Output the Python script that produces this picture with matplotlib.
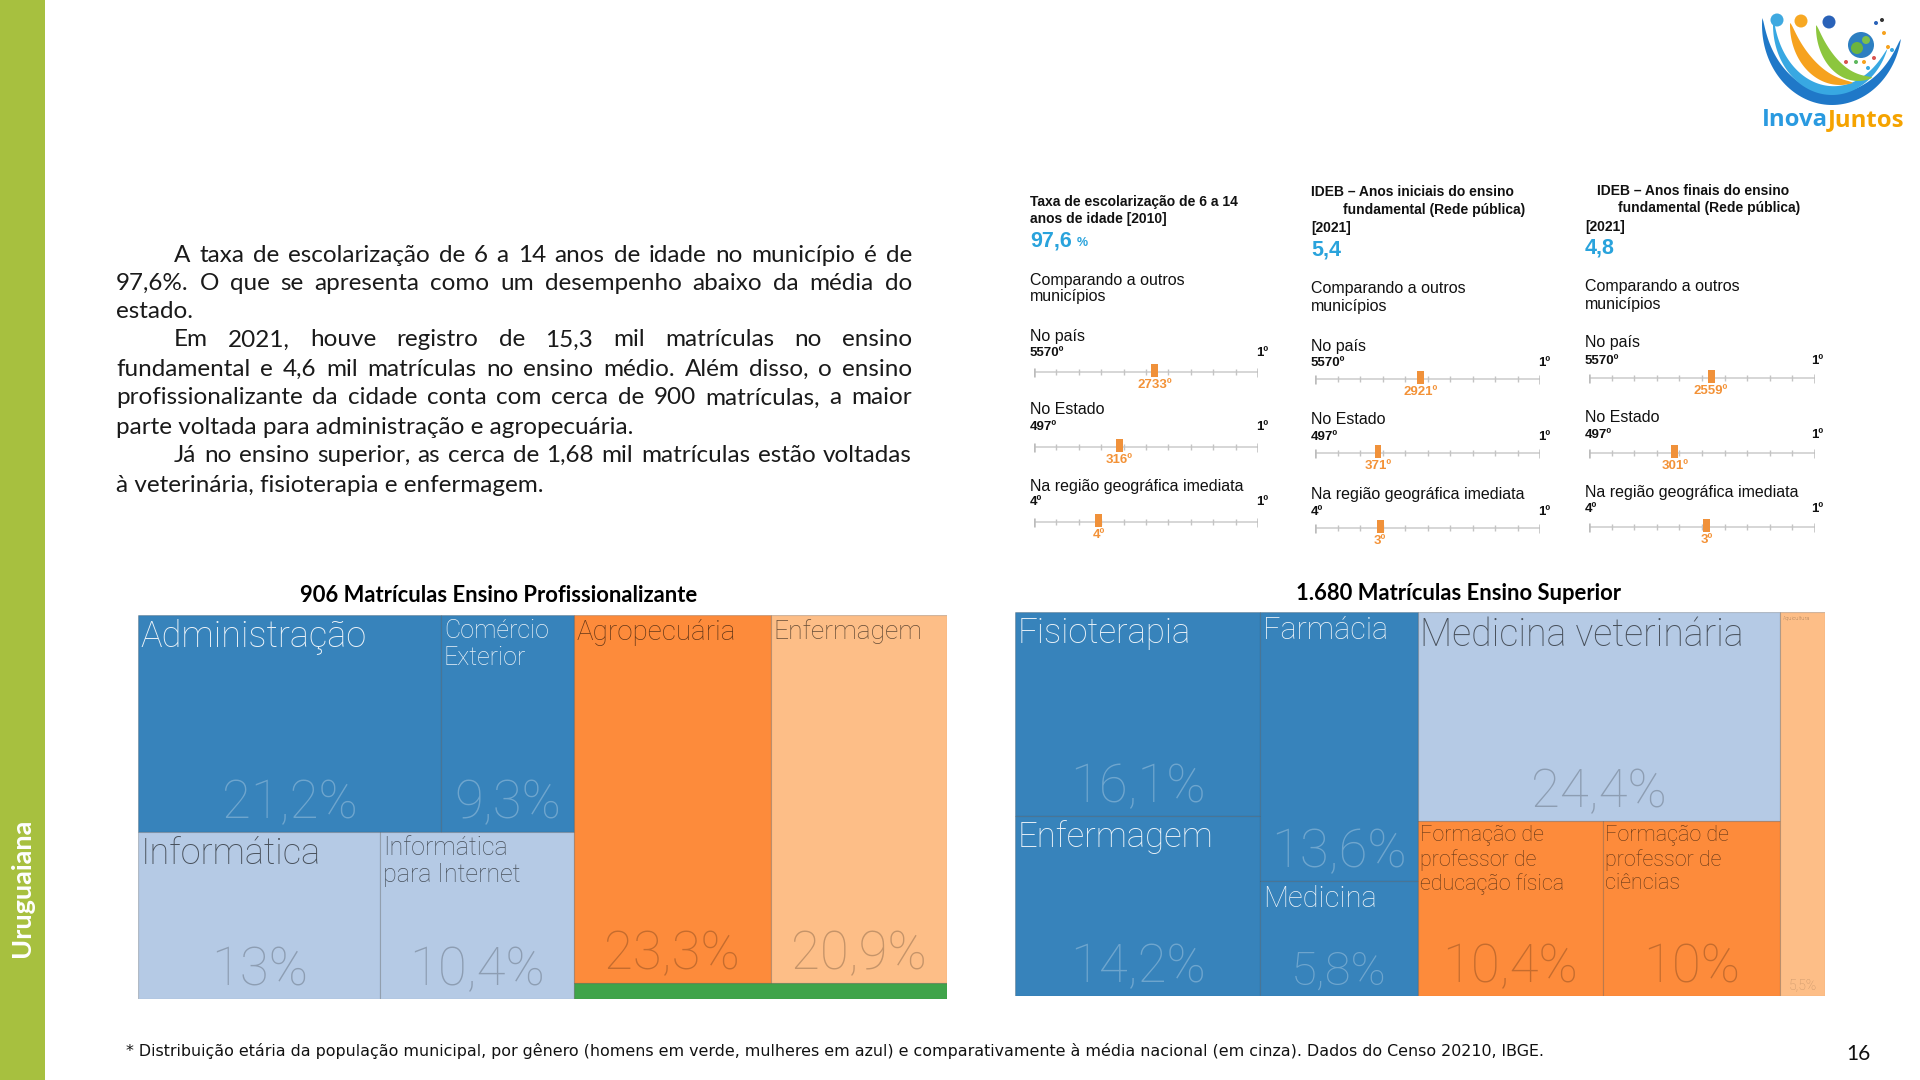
import numpy as np
import matplotlib
matplotlib.use('Agg')
import matplotlib.pyplot as plt
from matplotlib.patches import Rectangle, Polygon, Circle

# ---------------- dados ----------------
paragrafo = [
    ("A taxa de escolarização de 6 a 14 anos de idade no município é de", True, True),
    ("97,6%. O que se apresenta como um desempenho abaixo da média do", False, True),
    ("estado.", False, False),
    ("Em 2021, houve registro de 15,3 mil matrículas no ensino", True, True),
    ("fundamental e 4,6 mil matrículas no ensino médio. Além disso, o ensino", False, True),
    ("profissionalizante da cidade conta com cerca de 900 matrículas, a maior", False, True),
    ("parte voltada para administração e agropecuária.", False, False),
    ("Já no ensino superior, as cerca de 1,68 mil matrículas estão voltadas", True, True),
    ("à veterinária, fisioterapia e enfermagem.", False, False),
]

paineis_titulo = [
    ["Taxa de escolarização de 6 a 14", "anos de idade [2010]"],
    ["IDEB – Anos iniciais do ensino", "fundamental (Rede pública)", "[2021]"],
    ["IDEB – Anos finais do ensino", "fundamental (Rede pública)", "[2021]"],
]
paineis_valor = ['97,6', '5,4', '4,8']
paineis_unidade = ['%', '', '']
niveis = ['No país', 'No Estado', 'Na região geográfica imediata']
total_niveis = [5570, 497, 4]
rank_pais = [2733, 2921, 2559]
rank_estado = [316, 371, 301]
rank_regiao = [4, 3, 3]
# posição do marcador na régua (% do comprimento)
pos_pais = [54, 47, 54]
pos_estado = [38, 28, 38]
pos_regiao = [29, 29, 52]

prof_titulo = '906 Matrículas Ensino Profissionalizante'
prof_cursos = ['Administração', 'Comércio\nExterior', 'Informática', 'Informática\npara Internet',
               'Agropecuária', 'Enfermagem', '']
prof_pct = [21.2, 9.3, 13.0, 10.4, 23.3, 20.9, 1.9]
prof_grupos = [[[0, 1], [2, 3]], [[4, 5], [6]]]

sup_titulo = '1.680 Matrículas Ensino Superior'
sup_cursos = ['Fisioterapia', 'Enfermagem', 'Farmácia', 'Medicina', 'Medicina veterinária',
              'Formação de\nprofessor de\neducação física', 'Formação de\nprofessor de\nciências',
              'Aquicultura']
sup_pct = [16.1, 14.2, 13.6, 5.8, 24.4, 10.4, 10.0, 5.5]
sup_grupos = [[[0], [1]], [[2], [3]], [[4], [5, 6]], [[7]]]

rodape = ('* Distribuição etária da população municipal, por gênero (homens em verde, mulheres em azul) '
          'e comparativamente à média nacional (em cinza). Dados do Censo 20210, IBGE.')

# ---------------- estilos ----------------
AZUL = '#3783bb'
AZUL_CLARO = '#b5cae5'
LARANJA = '#fd8b3b'
LARANJA_CLARO = '#fdbe87'
VERDE = '#3fa44a'
prof_cores = [AZUL, AZUL, AZUL_CLARO, AZUL_CLARO, LARANJA, LARANJA_CLARO, VERDE]
prof_fs = [(26, 38), (18, 38), (26, 38), (18, 38), (20, 38), (19, 38), (1, 1)]
sup_cores = [AZUL, AZUL, AZUL, AZUL, AZUL_CLARO, LARANJA, LARANJA, LARANJA_CLARO]
sup_fs = [(25, 38), (25, 38), (22, 38), (21, 34), (27, 38), (15.5, 38), (15.5, 38), (4, 10)]

FONTE_TXT = 'Lato'
FONTE_IBGE = 'Liberation Sans'
FONTE_TM = 'Roboto'
AZUL_VALOR = '#29a3dc'
LARANJA_MARC = '#f0913a'

fig = plt.figure(figsize=(19.2, 10.8), dpi=100)
fig.patch.set_facecolor('white')
ax0 = fig.add_axes([0, 0, 1, 1])
ax0.set_xlim(0, 1920)
ax0.set_ylim(1080, 0)
ax0.axis('off')
renderer = fig.canvas.get_renderer()


def largura(s, **kw):
    t = ax0.text(0, 0, s, **kw)
    w = t.get_window_extent(renderer).width
    t.remove()
    return w


# barra lateral
ax0.add_patch(Rectangle((0, 0), 45, 1080, color='#a7c03f', lw=0))
ax0.text(22, 888, 'Uruguaiana', rotation=90, ha='center', va='center', color='white',
         fontsize=19.5, fontweight='bold', family=FONTE_TXT)

# paragrafo justificado
x_esq, x_ind, x_dir = 116, 174, 912
ys_par = [255, 283, 311, 340, 369, 398, 427, 455, 485]
kw_par = dict(fontsize=17.5, family=FONTE_TXT, color='#1a1a1a', va='center', ha='left')
while True:
    cabe = all(largura(l, **kw_par) <= x_dir - (x_ind if r else x_esq)
               for l, r, j in paragrafo if j)
    if cabe:
        break
    kw_par['fontsize'] -= 0.25

for (linha, recuo, justif), y in zip(paragrafo, ys_par):
    x0 = x_ind if recuo else x_esq
    if not justif:
        ax0.text(x0, y, linha, **kw_par)
        continue
    palavras = linha.split()
    ws = [largura(p, **kw_par) for p in palavras]
    gap = (x_dir - x0 - sum(ws)) / (len(palavras) - 1)
    x = x0
    for p, w in zip(palavras, ws):
        ax0.text(x, y, p, **kw_par)
        x += w + gap

# paineis IBGE
painel_x = [1030, 1311, 1585]
painel_dir = [1268, 1550, 1823]
regua_x = [(1034, 1258), (1315, 1540), (1589, 1815)]
titulo_x = [[1030, 1030], [1311, 1343, 1311], [1597, 1618, 1585]]
titulo_y = [[202, 219], [192, 210, 228], [191, 208, 227]]
valor_y = [241, 250, 248]
comp_y = [(280, 297), (289, 307), (287, 305)]
nivel_y = [[336, 410, 486], [346, 419, 494], [343, 418, 493]]
extremo_y = [[353, 427, 502], [363, 437, 512], [361, 435, 509]]
regua_y = [[372, 447, 522], [379, 453, 528], [378, 453, 527]]

for i in range(3):
    for txt, tx, ty in zip(paineis_titulo[i], titulo_x[i], titulo_y[i]):
        ax0.text(tx, ty, txt, fontsize=10, fontweight='bold', family=FONTE_IBGE,
                 color='#111111', va='center', ha='left')
    kw_val = dict(fontsize=15.5, fontweight='bold', family=FONTE_IBGE, color=AZUL_VALOR,
                  va='center', ha='left')
    ax0.text(painel_x[i], valor_y[i], paineis_valor[i], **kw_val)
    if paineis_unidade[i]:
        wv = largura(paineis_valor[i], **kw_val)
        ax0.text(painel_x[i] + wv + 5, valor_y[i] + 2, paineis_unidade[i], fontsize=9,
                 fontweight='bold', family=FONTE_IBGE, color=AZUL_VALOR, va='center', ha='left')
    ax0.text(painel_x[i], comp_y[i][0], 'Comparando a outros', fontsize=11.5, family=FONTE_IBGE,
             color='#111111', va='center')
    ax0.text(painel_x[i], comp_y[i][1], 'municípios', fontsize=11.5, family=FONTE_IBGE,
             color='#111111', va='center')

    ranks = [rank_pais[i], rank_estado[i], rank_regiao[i]]
    posicoes = [pos_pais[i], pos_estado[i], pos_regiao[i]]
    for j in range(3):
        ax0.text(painel_x[i], nivel_y[i][j], niveis[j], fontsize=11.5, family=FONTE_IBGE,
                 color='#111111', va='center')
        ax0.text(painel_x[i], extremo_y[i][j], f'{total_niveis[j]}º', fontsize=9.5,
                 fontweight='bold', family=FONTE_IBGE, color='#111111', va='center')
        ax0.text(painel_dir[i], extremo_y[i][j], '1º', fontsize=9.5, fontweight='bold',
                 family=FONTE_IBGE, color='#111111', va='center', ha='right')
        xa, xb = regua_x[i]
        yr = regua_y[i][j]
        axr = fig.add_axes([xa / 1920, 1 - (yr + 20) / 1080, (xb - xa) / 1920, 40 / 1080])
        axr.set_xlim(0, 100)
        axr.set_ylim(-20, 20)
        axr.axis('off')
        axr.plot([0, 100], [0, 0], color='#cfcfcf', lw=1.2, zorder=1)
        marcas = np.linspace(0, 100, 11)
        axr.vlines(marcas[1:-1], -3, 3, color='#c4c4c4', lw=1, zorder=1)
        axr.vlines([0, 100], -4.5, 4.5, color='#bcbcbc', lw=1.8, zorder=1)
        axr.bar([posicoes[j]], [13], bottom=-5, width=3.1, color=LARANJA_MARC, zorder=3)
        axr.annotate(f'{ranks[j]}º', (posicoes[j], -5), xytext=(0, -1.5), textcoords='offset points',
                     ha='center', va='top', fontsize=9.5, fontweight='bold', family=FONTE_IBGE,
                     color='#f39237')


# treemaps
def fmt_pct(v):
    return f'{v:g}'.replace('.', ',') + '%'


def treemap(caixa, titulo, titulo_xc, cursos, pct, grupos, cores, tamanhos):
    x0, y0, x1, y1 = caixa
    ax = fig.add_axes([x0 / 1920, 1 - y1 / 1080, (x1 - x0) / 1920, (y1 - y0) / 1080])
    ax.set_xlim(0, 100)
    ax.set_ylim(100, 0)
    ax.axis('off')
    total = sum(pct)
    cx = 0
    for coluna in grupos:
        soma_col = sum(pct[k] for linha in coluna for k in linha)
        wcol = 100 * soma_col / total
        cy = 0
        for linha in coluna:
            soma_lin = sum(pct[k] for k in linha)
            hlin = 100 * soma_lin / soma_col
            lx = cx
            for k in linha:
                wk = wcol * pct[k] / soma_lin
                ax.add_patch(Rectangle((lx, cy), wk, hlin, facecolor=cores[k],
                                       edgecolor=(0, 0, 0, 0.18), lw=0.8))
                if cursos[k]:
                    escuro = cores[k] == AZUL
                    cor_rot = (1, 1, 1, 0.9) if escuro else (0, 0, 0, 0.6)
                    cor_pct = (1, 1, 1, 0.28) if escuro else (0, 0, 0, 0.22)
                    fl, fp = tamanhos[k]
                    ax.annotate(cursos[k], (lx, cy), xytext=(2, -3), textcoords='offset points',
                                ha='left', va='top', fontsize=fl, family=FONTE_TM,
                                fontweight='light', color=cor_rot, linespacing=1.15)
                    ax.annotate(fmt_pct(pct[k]), (lx + wk / 2, cy + hlin), xytext=(0, 2),
                                textcoords='offset points', ha='center', va='bottom',
                                fontsize=fp, family=FONTE_TM, fontweight='light', color=cor_pct)
                lx += wk
            cy += hlin
        cx += wcol
    ax0.text(titulo_xc, y0 - 19, titulo, ha='center', va='center', fontsize=15.8,
             fontweight='bold', family=FONTE_TXT, color='black')


treemap((138, 615, 947, 999), prof_titulo, 499, prof_cursos, prof_pct, prof_grupos,
        prof_cores, prof_fs)
treemap((1015, 612, 1825, 996), sup_titulo, 1459, sup_cursos, sup_pct, sup_grupos,
        sup_cores, sup_fs)

# rodape
kw_rod = dict(fontsize=10, family='DejaVu Sans', color='#111111', va='center', ha='left')
w_rod = largura(rodape, **kw_rod)
kw_rod['fontsize'] = 10 * 1409 / w_rod
ax0.text(126, 1051, rodape, **kw_rod)
ax0.text(1858, 1054, '16', fontsize=15, family=FONTE_TXT, color='#111111', ha='center', va='center')


# logo InovaJuntos
def crescente(cx, cy, rx, ry, t0, t1, wmax, cor):
    t = np.radians(np.linspace(t0, t1, 80))
    w = wmax * np.sin(np.linspace(0, np.pi, 80)) ** 0.7
    xo, yo = cx + rx * np.cos(t), cy + ry * np.sin(t)
    xi, yi = cx + (rx - w) * np.cos(t), cy + (ry - w) * np.sin(t)
    pts = np.concatenate([np.c_[xo, yo], np.c_[xi, yi][::-1]])
    ax0.add_patch(Polygon(pts, closed=True, facecolor=cor, lw=0))


crescente(1832, 25, 70, 80, 185, 10, 12, '#1f78c8')
crescente(1832, 25, 59, 70, 185, 20, 9, '#38a8e2')
crescente(1840, 25, 50, 60, 182, 75, 12, '#f6a21e')
crescente(1858, 27, 42, 54, 182, 70, 11, '#8cc63e')
for (hx, hy, hc) in [(1777, 20, '#3fa9e0'), (1801, 21, '#f7a823'), (1829, 22, '#2a62b8')]:
    ax0.add_patch(Circle((hx, hy), 6.5, color=hc, lw=0))
ax0.add_patch(Circle((1861, 45), 13, color='#2d7fc1', lw=0))
ax0.add_patch(Circle((1857, 48), 6, color='#6cb43f', lw=0))
ax0.add_patch(Circle((1866, 40), 4, color='#7cc04a', lw=0))
for (dx, dy, dc) in [(1876, 23, '#2a62b8'), (1882, 20, '#333333'), (1884, 33, '#f6a21e'),
                     (1888, 47, '#f6a21e'), (1892, 50, '#38a8e2'), (1846, 62, '#d9534f'),
                     (1856, 62, '#5cb85c'), (1864, 62, '#f6a21e'), (1874, 58, '#d9534f'),
                     (1868, 68, '#38a8e2')]:
    ax0.add_patch(Circle((dx, dy), 2, color=dc, lw=0))
kw_logo = dict(fontsize=12, fontweight='bold', family='Open Sans', va='center', ha='left')
w1 = largura('Inova', **kw_logo)
w2 = largura('Juntos', **kw_logo)
kw_logo['fontsize'] = 12 * 142 / (w1 + w2)
w1 = largura('Inova', **kw_logo)
ax0.text(1762, 120, 'Inova', color='#2a9ae0', **kw_logo)
ax0.text(1762 + w1, 120, 'Juntos', color='#f5a300', **kw_logo)

fig.savefig('out.png', dpi=100, facecolor='white')
